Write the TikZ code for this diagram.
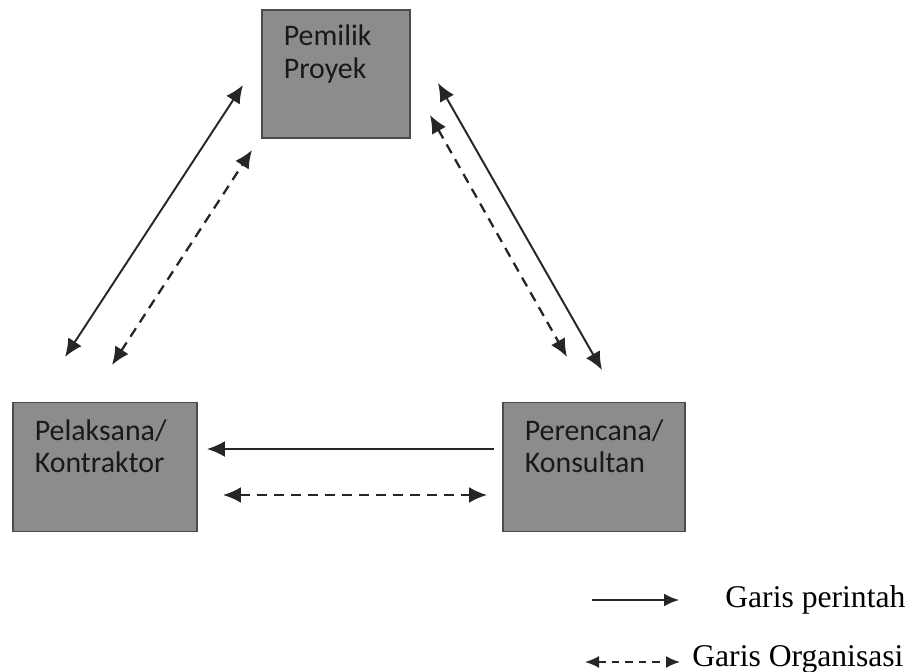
\documentclass[tikz,border=0pt]{standalone}
\usepackage{fontspec}
\setmainfont{Liberation Serif}
\newfontfamily\boxfont{Carlito}
\usepackage{tikz}
\usetikzlibrary{calc}
\usetikzlibrary{arrows.meta}
\usetikzlibrary{positioning}

\begin{document}
\begin{tikzpicture}[
x=0.02cm, y=-0.02cm,
MyBoxes/.style={draw=black!70,fill=black!45,line width=0.6pt,inner sep=0pt},
BoxText/.style={font=\boxfont\fontsize{17}{18.5}\selectfont,text=black!90,align=left,inner sep=0pt,anchor=north west},
Command/.style={line width=1.1pt,black!85},
Organisation/.style={line width=1.3pt,black!85,dash pattern=on 0.2cm off 0.14cm},
LegendText/.style={font=\fontsize{18}{22}\selectfont,inner sep=0pt,anchor=base west}
]
\useasboundingbox (0,0) rectangle (914,672);

% the three parties
\node [MyBoxes, minimum width=2.96cm, minimum height=2.56cm] (pemilik) at (336,74) {};
\node [MyBoxes, minimum width=3.68cm, minimum height=2.58cm] (pelaksana) at (105,467) {};
\node [MyBoxes, minimum width=3.64cm, minimum height=2.58cm] (perencana) at (594,467) {};

\node [BoxText] (pemiliktxt) at ($(pemilik.north west)+(22,15)$) {Pemilik\\Proyek};
\node [BoxText] (pelaksanatxt) at ($(pelaksana.north west)+(22,17)$) {Pelaksana/\\Kontraktor};
\node [BoxText] (perencanatxt) at ($(perencana.north west)+(22,17)$) {Perencana/\\Konsultan};

% free ends of the lines
\coordinate (PL1) at (65,357);   \coordinate (PL2) at (243,85);
\coordinate (PL3) at (112,365);  \coordinate (PL4) at (252,150);
\coordinate (PR1) at (438,83);   \coordinate (PR2) at (602,370);
\coordinate (PR3) at (430,115);  \coordinate (PR4) at (567,357);
\coordinate (H1) at (494,449);   \coordinate (H2) at (207,449);
\coordinate (H3) at (223,495);   \coordinate (H4) at (487,495);

\draw[{Latex[length=3.6mm, width=3.2mm]}-{Latex[length=3.6mm, width=3.2mm]}, Command] (PL1)--(PL2);
\draw[{Latex[length=3.6mm, width=3.2mm]}-{Latex[length=3.6mm, width=3.2mm]}, Organisation] (PL3)--(PL4);
\draw[{Latex[length=3.6mm, width=3.2mm]}-{Latex[length=3.6mm, width=3.2mm]}, Command] (PR1)--(PR2);
\draw[{Latex[length=3.6mm, width=3.2mm]}-{Latex[length=3.6mm, width=3.2mm]}, Organisation] (PR3)--(PR4);
\draw[-{Latex[length=3.6mm, width=3.2mm]}, Command] (H1)--(H2);
\draw[{Latex[length=3.6mm, width=3.2mm]}-{Latex[length=3.6mm, width=3.2mm]}, Organisation] (H3)--(H4);

% legend
\coordinate (G1) at (592,600);  \coordinate (G2) at (679,600);
\coordinate (G3) at (585,662);  \coordinate (G4) at (680,662);
\draw[-{Latex[length=3mm, width=2.6mm]}, Command] (G1)--(G2);
\draw[{Latex[length=2.8mm, width=2.4mm]}-{Latex[length=2.8mm, width=2.4mm]}, Organisation, line width=1pt, dash pattern=on 0.15cm off 0.12cm] (G3)--(G4);
\node [LegendText] (perintah) at (725,607) {Garis perintah};
\node [LegendText] (organisasi) at (692,666) {Garis Organisasi};

\end{tikzpicture}
\end{document}
